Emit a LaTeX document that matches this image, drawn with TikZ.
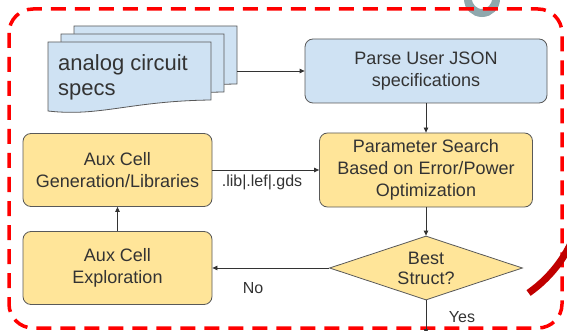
\documentclass[tikz,border=0pt]{standalone}
\usepackage{fontspec}
\setmainfont{Liberation Sans}
\usetikzlibrary{shapes.geometric,arrows.meta}
\definecolor{specblue}{HTML}{CFE2F3}
\definecolor{stepyellow}{HTML}{FFE599}
\definecolor{edgegray}{HTML}{595959}
\definecolor{inkgray}{HTML}{333333}
\definecolor{ringred}{HTML}{C00000}
\definecolor{titlegray}{HTML}{8FA8AD}
\tikzset{
  procbox/.style={draw=edgegray, line width=0.8pt, rounded corners=8pt, align=center,
    text=inkgray, inner sep=0pt, font=\fontsize{18}{22}\selectfont},
  bluebox/.style={procbox, fill=specblue},
  yellowbox/.style={procbox, fill=stepyellow},
  decision/.style={diamond, aspect=3, draw=edgegray, line width=0.8pt, fill=stepyellow,
    align=center, text=inkgray, inner sep=0pt, font=\fontsize{18}{20}\selectfont},
  docpage/.style={draw=edgegray, line width=0.8pt, fill=specblue},
  flow/.style={draw=inkgray, line width=0.8pt, -{Triangle[length=5pt,width=4.5pt]}},
  edgelabel/.style={text=inkgray, inner sep=0pt, font=\fontsize{16}{19}\selectfont},
}
\begin{document}
\begin{tikzpicture}[x=1pt,y=1pt]
\clip (0,0) rectangle (567,-331);
% title fragment above the frame
\draw[titlegray, line width=8pt] (468,1) arc (180:360:14);
% dashed frame
\draw[red, line width=3.5pt, dash pattern=on 15pt off 9pt, rounded corners=24pt]
  (9,-9) rectangle (562,-328);

% stacked spec pages
\foreach \dx/\dy in {26/16, 13/8, 0/0}
  \draw[docpage, shift={(\dx,\dy)}] (48,-42) -- (211,-42) -- (211,-100)
    .. controls (130,-101) and (100,-117) .. (48,-111) -- cycle;
\node[anchor=west, align=left, text=inkgray, inner sep=0pt,
  font=\fontsize{22}{25}\selectfont] (specs) at (58,-77.5) {analog circuit\\specs};
\coordinate (docs) at (237,-71);

\node[bluebox, minimum width=242pt, minimum height=64pt] (parse) at (426,-71)
  {Parse User JSON\\specifications};
\node[yellowbox, minimum width=213pt, minimum height=74pt] (param) at (426,-170)
  {Parameter Search\\Based on Error/Power\\Optimization};
\node[yellowbox, minimum width=189pt, minimum height=73pt] (auxgen) at (117.5,-170)
  {Aux Cell\\Generation/Libraries};
\node[yellowbox, minimum width=189pt, minimum height=73pt] (auxexp) at (117.5,-268)
  {Aux Cell\\Exploration};
\node[decision, minimum width=193pt, minimum height=64pt] (best) at (426,-268)
  {Best\\Struct?};
\coordinate (out) at (426,-334);

\draw[flow] (docs) -- (parse);
\draw[flow] (parse) -- (param);
\draw[flow] (auxgen) -- (param);
\draw[flow] (param) -- (best);
\draw[flow] (best) -- (auxexp);
\draw[flow] (auxexp) -- (auxgen);
\draw[flow] (best) -- (out);

\node[edgelabel] (liblabel) at (262,-182) {.lib|.lef|.gds};
\node[edgelabel] (nolabel) at (253,-288) {No};
\node[edgelabel] (yeslabel) at (462,-317) {Yes};

% ring behind the frame
\draw[ringred, line width=7pt] (454,-186.5) ++(-55:130) arc (-55:-15:130);
\end{tikzpicture}
\end{document}
